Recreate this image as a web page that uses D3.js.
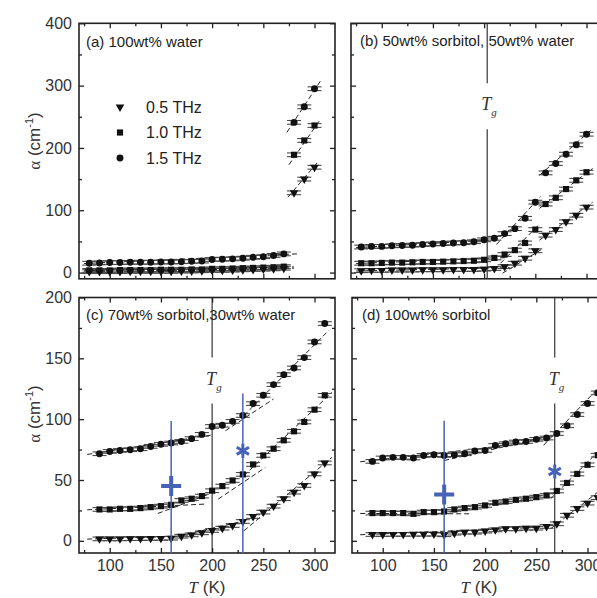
<!DOCTYPE html>
<html>
<head>
<meta charset="utf-8">
<script src="https://cdn.jsdelivr.net/npm/d3@7"></script>
<style>
body { margin: 0; background: #fff; }
svg { display: block; font-family: "Liberation Sans", Arial, sans-serif; }
</style>
</head>
<body>
<script>
const width = 597, height = 598

// temperatures (K)
const tempA = [80,90,100,110,120,130,140,150,160,170,180,190,200,210,220,230,240,250,260,270]
const tempALiq = [280,290,300]
const tempB = [80,90,100,110,120,130,140,150,160,170,180,190,200,210,220,230,240,250,260,270,280,290,300]
const tempCD = [90,100,110,120,130,140,150,160,170,180,190,200,210,220,230,240,250,260,270,280,290,300,310]

// (a) 100wt% water, alpha (cm-1)
const a05 = [1.5,1.5,1.5,1.5,2,2,2,2,2,2.5,2.5,3,3.5,3.5,4,4.5,5,5.5,6,7]
const a10 = [3.5,3.5,3.5,4,4,4,4,4.5,4.5,4.5,5,5,6,6,6.5,7,7.5,8,8.5,9.5]
const a15 = [15,15.5,16,16,16.5,16.5,16.5,17,17,17.5,18,18.5,21,21.5,22,23,24.5,25.5,27.5,30]
const a05Liq = [128,150,169]
const a10Liq = [189,212,236]
const a15Liq = [241,266,295]

// (b) 50wt% sorbitol
const b05 = [3,3.5,3.5,4,4,4,4.5,4.5,4.5,5,5,5,5.5,6.5,9.5,15,23,35,60,69,81.5,92,105]
const b10 = [15,15,15.5,16,16,16.5,17,17,17.5,18,18.5,19,20.5,23.5,29,36,47.5,69,110,120,134,148,161]
const b15 = [41,42,42,43,43.5,44,45,46,46.5,47.5,48,49.5,52.5,55,62.5,70.5,87,113,160,175,190,205,222]

// (c) 70wt% sorbitol
const c05 = [1.6,1.6,1.6,1.8,1.8,2,2,2.2,3.8,4.9,6.6,8.5,10.4,12.6,15.9,20,23.6,28.5,34.6,40,45.5,55,64]
const c10 = [25.8,25.8,26.3,26.3,26.9,27.7,28.5,29.6,33.2,34.6,36.8,41.2,45,49.6,54.6,62.8,70.2,75.7,82.6,90,97.7,107.8,119.6]
const c15 = [71.6,73.5,74.3,74.9,75.7,77.6,79.3,80.4,81.7,84,87.5,94,95,98.2,103,112.8,119.6,128.4,136.6,142.1,150.6,163.5,178.6]

// (d) 100wt% sorbitol
const d05 = [5.2,5.2,5.3,5.3,5.4,5.4,5.5,5,6.3,7.1,7.1,8,9,9.9,9.9,10.4,10.4,11.8,14,21,26.5,31,35.5]
const d10 = [22.8,22.8,22.8,22.8,22.2,23.6,23.6,24.1,25.8,26.9,27.7,29.1,31.3,32.3,33.7,34.6,35.9,37.3,41,47.6,55,62.5,70.4]
const d15 = [65.3,68.1,68.6,68.6,68.1,70.2,70.8,70.2,70.8,71.6,73.8,74.3,78.4,79.8,81.2,81.7,83.4,84.5,88.2,94.6,103.8,112.9,121.6]

// dashed linear fits: [freq, T0, alpha0, T1, alpha1]
const fitsA = [["1.5",75,14.5,283,30],["1.0",75,3,280,9],["0.5",75,1,280,7],
  ["1.5",273,225,306,308],["1.0",275,173,305,244],["0.5",274,121,303,177]]
const fitsB = [["1.5",75,40,215,53],["1.5",212,45,255,122],["1.5",254,156,304,228],
  ["1.0",75,14.5,222,24],["1.0",216,15,253,76],["1.0",254,103,306,167],
  ["0.5",75,2.5,225,8],["0.5",218,-1,258,39],["0.5",254,52,306,113]]
const fitsC = [["1.5",78,71,200,87],["1.5",213,90.5,260,116.6],["1.5",231,103,314,173],
  ["1.0",78,25.5,193,30.2],["1.0",147,22.5,197,38.4],["1.0",206,34.3,252,60.3],["1.0",231,53.5,317,122],
  ["0.5",78,1.4,177,4.1],["0.5",160,2.7,232,16.5],["0.5",231,8.2,317,68.6]]
const fitsD = [["1.5",78,65,240,80],["1.5",160,66,268,87],["1.5",257,78.5,310,125],
  ["1.0",78,22.5,185,22.2],["1.0",150,21.5,268,39],["1.0",264,34.6,310,73],
  ["0.5",78,5,250,11],["0.5",264,9.9,310,40]]

// glass transition and marked temperatures
const tgB = 203, tgC = 200, tgD = 268
const blueLinesC = [[160, 98.5], [230, 121]]
const blueLinesD = [[160, 98.7]]
const blueMarksC = [["plus", 160, 45], ["star", 230, 74]]
const blueMarksD = [["plus", 160, 38], ["star", 268, 57]]

const errAB = 3, errCD = 1.5

const labels = ["(a) 100wt% water", "(b) 50wt% sorbitol, 50wt% water",
  "(c) 70wt% sorbitol,30wt% water", "(d) 100wt% sorbitol"]
const freqs = ["0.5 THz", "1.0 THz", "1.5 THz"]

const xDomain = [70, 320]
const xMajor = [100, 150, 200, 250, 300], xMinor = [75, 125, 175, 225, 275]
const yMajAB = [0, 100, 200, 300, 400], yMinAB = [50, 150, 250, 350]
const yMajCD = [0, 50, 100, 150, 200], yMinCD = [25, 75, 125, 175]

const pw = 256, ph = 255.5
const blue = "#4862b8"

let svg = d3.select("body").append("svg")
    .attr("width", width)
    .attr("height", height)

const shapes = {
    "0.5": d3.symbol().type(d3.symbolTriangle).size(32),
    "1.0": d3.symbol().type(d3.symbolSquare).size(38),
    "1.5": d3.symbol().type(d3.symbolCircle).size(38)
}
const rot = (f) => f == "0.5" ? " rotate(180)" : ""

const plusType = { draw(ctx, size) { const r = Math.sqrt(size) / 2
    ctx.moveTo(-r, 0); ctx.lineTo(r, 0); ctx.moveTo(0, -r); ctx.lineTo(0, r) } }
const starType = { draw(ctx, size) { const r = Math.sqrt(size) / 2, t = r / 2, u = t * Math.sqrt(3)
    ctx.moveTo(0, r); ctx.lineTo(0, -r); ctx.moveTo(-u, -t); ctx.lineTo(u, t); ctx.moveTo(-u, t); ctx.lineTo(u, -t) } }

function panel(px, py, yDom, yMaj, yMin, xLab, yLab) {
    const x = d3.scaleLinear().domain(xDomain).range([px, px + pw])
    const y = d3.scaleLinear().domain(yDom).range([py + ph, py])
    const g = svg.append("g")
    const fmt = (on) => on ? d3.format("d") : () => ""
    const ax = [
        [d3.axisBottom(x).tickValues(xMajor).tickFormat(fmt(xLab)), `translate(0,${py + ph})`, 5],
        [d3.axisBottom(x).tickValues(xMinor).tickFormat(fmt(false)), `translate(0,${py + ph})`, 3],
        [d3.axisTop(x).tickValues(xMajor).tickFormat(fmt(false)), `translate(0,${py})`, 5],
        [d3.axisTop(x).tickValues(xMinor).tickFormat(fmt(false)), `translate(0,${py})`, 3],
        [d3.axisLeft(y).tickValues(yMaj).tickFormat(fmt(yLab)), `translate(${px},0)`, 5],
        [d3.axisLeft(y).tickValues(yMin).tickFormat(fmt(false)), `translate(${px},0)`, 3],
        [d3.axisRight(y).tickValues(yMaj).tickFormat(fmt(false)), `translate(${px + pw},0)`, 5],
        [d3.axisRight(y).tickValues(yMin).tickFormat(fmt(false)), `translate(${px + pw},0)`, 3]
    ]
    ax.forEach(([a, tr, s]) => {
        const ag = g.append("g").attr("transform", tr)
            .call(a.tickSize(-s).tickPadding(s == 5 ? 7 : 2))
        ag.select(".domain").remove()
        ag.selectAll(".tick line").attr("stroke", "#222").attr("stroke-width", 1.3)
        ag.selectAll("text").attr("font-size", 16).attr("fill", "#333")
            .attr("font-family", "Liberation Sans, Arial, sans-serif")
    })
    g.append("rect").attr("x", px).attr("y", py).attr("width", pw).attr("height", ph)
        .attr("fill", "none").attr("stroke", "#222").attr("stroke-width", 1.6)
    return { x, y, g }
}

function series(p, temps, vals, f, err) {
    const cap = p.g.append("g").attr("stroke", "#4a4a4a").attr("stroke-width", 1.1)
    temps.forEach((t, i) => {
        [err, -err].forEach((e) => {
            cap.append("line")
                .attr("x1", p.x(t) - 7).attr("x2", p.x(t) + 7)
                .attr("y1", p.y(vals[i] + e)).attr("y2", p.y(vals[i] + e))
        })
    })
    p.g.append("g").selectAll("path").data(temps).join("path")
        .attr("d", shapes[f])
        .attr("transform", (t, i) => `translate(${p.x(t)},${p.y(vals[i])})` + rot(f))
        .attr("fill", "#111")
}

function fits(p, list) {
    p.g.append("g").selectAll("line").data(list).join("line")
        .attr("x1", (d) => p.x(d[1])).attr("y1", (d) => p.y(d[2]))
        .attr("x2", (d) => p.x(d[3])).attr("y2", (d) => p.y(d[4]))
        .attr("stroke", "#222").attr("stroke-width", 1)
        .attr("stroke-dasharray", "5,3")
}

function tg(p, t, py) {
    const xx = p.x(t)
    p.g.append("line").attr("x1", xx).attr("x2", xx).attr("y1", py).attr("y2", py + 60)
        .attr("stroke", "#222").attr("stroke-width", 1.1)
    p.g.append("line").attr("x1", xx).attr("x2", xx).attr("y1", py + 106).attr("y2", py + ph)
        .attr("stroke", "#222").attr("stroke-width", 1.1)
    const tx = p.g.append("text").attr("x", xx - 6).attr("y", py + 87)
        .attr("font-family", "Liberation Serif, Times New Roman, serif").attr("font-style", "italic")
        .attr("fill", "#333")
    tx.append("tspan").attr("font-size", 18).text("T")
    tx.append("tspan").attr("font-size", 11).attr("dy", 6).text("g")
}

function blueMarks(p, lines, marks) {
    p.g.append("g").selectAll("line").data(lines).join("line")
        .attr("x1", (d) => p.x(d[0])).attr("x2", (d) => p.x(d[0]))
        .attr("y1", (d) => p.y(d[1])).attr("y2", p.y.range()[0])
        .attr("stroke", blue).attr("stroke-width", 1.5)
    p.g.append("g").selectAll("path").data(marks).join("path")
        .attr("d", (d) => d[0] == "plus" ? d3.symbol().type(plusType).size(400)() : d3.symbol().type(starType).size(200)())
        .attr("transform", (d) => `translate(${p.x(d[1])},${p.y(d[2])})`)
        .attr("fill", "none").attr("stroke", blue)
        .attr("stroke-width", (d) => d[0] == "plus" ? 4 : 3)
}

function label(p, x, y, txt) {
    p.g.append("text").attr("x", x).attr("y", y).attr("font-size", 15).attr("fill", "#222").text(txt)
}

// panels
const pa = panel(79, 23.3, [-10, 400], yMajAB, yMinAB, false, true)
const pb = panel(351, 23.3, [-10, 400], yMajAB, yMinAB, false, false)
const pc = panel(79, 297.5, [-10, 200], yMajCD, yMinCD, true, true)
const pd = panel(352, 297.5, [-10, 200], yMajCD, yMinCD, true, false)

// (a)
fits(pa, fitsA)
series(pa, tempA, a10, "1.0", errAB)
series(pa, tempA, a05, "0.5", errAB)
series(pa, tempA, a15, "1.5", errAB)
series(pa, tempALiq, a05Liq, "0.5", errAB)
series(pa, tempALiq, a10Liq, "1.0", errAB)
series(pa, tempALiq, a15Liq, "1.5", errAB)
label(pa, 86, 46.5, labels[0])

// legend
const legY = [107, 132.5, 158]
const keys = ["0.5", "1.0", "1.5"]
keys.forEach((k, i) => {
    pa.g.append("path").attr("d", shapes[k])
        .attr("transform", `translate(120,${legY[i]})` + rot(k)).attr("fill", "#111")
    pa.g.append("text").attr("x", 146).attr("y", legY[i] + 5.8)
        .attr("font-size", 16).attr("fill", "#222").text(freqs[i])
})

// (b)
tg(pb, tgB, 23.3)
fits(pb, fitsB)
series(pb, tempB, b05, "0.5", errAB)
series(pb, tempB, b10, "1.0", errAB)
series(pb, tempB, b15, "1.5", errAB)
label(pb, 360, 46, labels[1])

// (c)
tg(pc, tgC, 297.5)
fits(pc, fitsC)
series(pc, tempCD, c05, "0.5", errCD)
series(pc, tempCD, c10, "1.0", errCD)
series(pc, tempCD, c15, "1.5", errCD)
blueMarks(pc, blueLinesC, blueMarksC)
label(pc, 86, 319.5, labels[2])

// (d)
tg(pd, tgD, 297.5)
fits(pd, fitsD)
series(pd, tempCD, d05, "0.5", errCD)
series(pd, tempCD, d10, "1.0", errCD)
series(pd, tempCD, d15, "1.5", errCD)
blueMarks(pd, blueLinesD, blueMarksD)
label(pd, 362, 319.5, labels[3])

// axis titles
function yTitle(cy) {
    const t = svg.append("text").attr("transform", `translate(40,${cy}) rotate(-90)`)
        .attr("text-anchor", "middle").attr("font-size", 17).attr("fill", "#333")
    t.append("tspan").attr("font-family", "Liberation Serif, Times New Roman, serif").text("α")
    t.append("tspan").text(" (cm")
    t.append("tspan").attr("font-size", 11).attr("dy", -7).text("-1")
    t.append("tspan").attr("dy", 7).text(")")
}
yTitle(141)
yTitle(414)

function xTitle(cx) {
    const t = svg.append("text").attr("x", cx).attr("y", 593)
        .attr("text-anchor", "middle").attr("font-size", 17).attr("fill", "#333")
    t.append("tspan").attr("font-family", "Liberation Serif, Times New Roman, serif")
        .attr("font-style", "italic").text("T")
    t.append("tspan").text(" (K)")
}
xTitle(207)
xTitle(479)
</script>
</body>
</html>
